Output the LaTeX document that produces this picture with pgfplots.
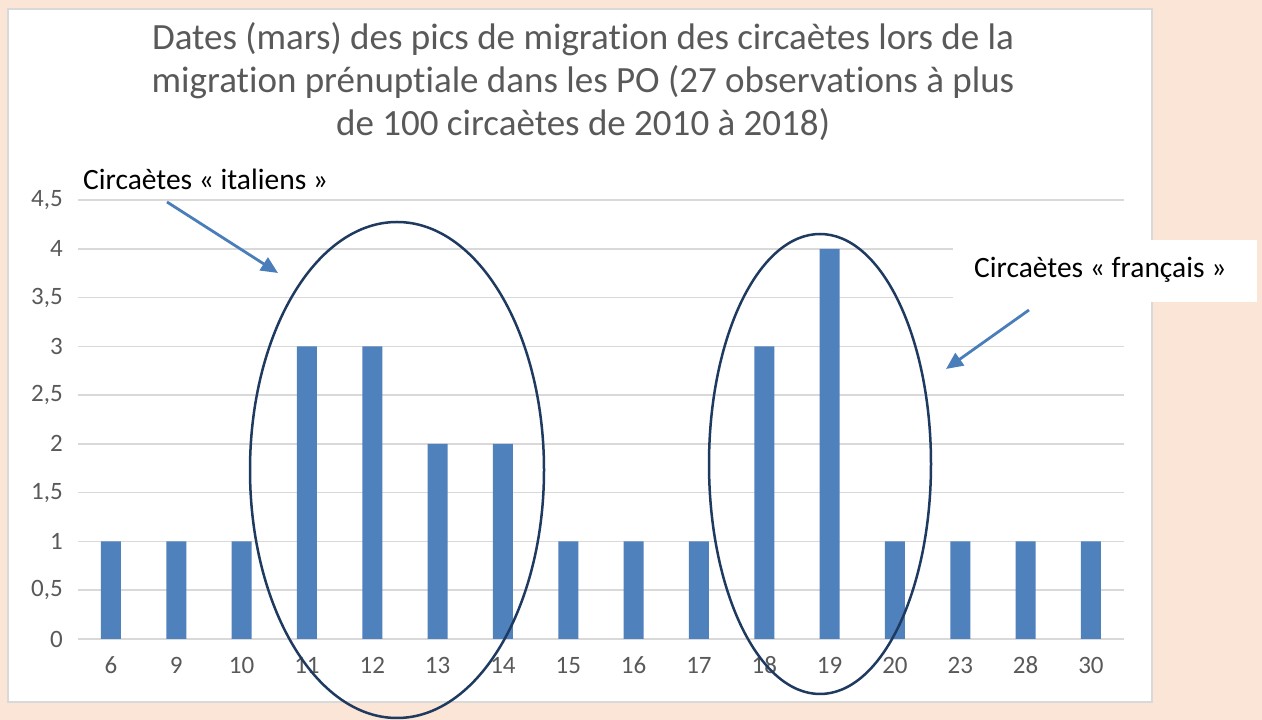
\documentclass[border=0pt]{standalone}
\usepackage{fontspec}
\setmainfont{Carlito}[Ligatures=NoCommon]
\usepackage{pgfplots}
\pgfplotsset{compat=1.18}
\usetikzlibrary{arrows.meta}
\definecolor{peach}{HTML}{FBE5D6}
\definecolor{barblue}{HTML}{4F81BD}
\definecolor{arrowblue}{HTML}{4A7EBB}
\definecolor{navy}{HTML}{1F3A60}
\definecolor{txtgray}{HTML}{595959}
\definecolor{gridgray}{HTML}{D9D9D9}
\begin{document}
\begin{tikzpicture}[x=1pt,y=1pt]
\useasboundingbox (0,0) rectangle (1262,720);
\fill[peach] (0,0) rectangle (1262,720);
\filldraw[fill=white, draw=gridgray, line width=1.5pt] (8,18) rectangle (1152,711);
\node[anchor=base, align=center, font=\fontsize{37}{43}\selectfont, text=txtgray] at (583,584)
 {Dates (mars) des pics de migration des circaètes lors de la\\
  migration prénuptiale dans les PO (27 observations à plus\\
  de 100 circaètes de 2010 à 2018)};
\begin{axis}[
  at={(78.3pt,81pt)}, anchor=south west,
  width=1045.3pt, height=439pt, scale only axis,
  xmin=-0.5, xmax=15.5, ymin=0, ymax=4.5,
  ytick={0,0.5,...,4.5},
  xtick={0,...,15},
  xticklabels={6,9,10,11,12,13,14,15,16,17,18,19,20,23,28,30},
  /pgf/number format/use comma,
  /pgf/number format/assume math mode=true,
  axis line style={draw=none},
  tick style={draw=none},
  ymajorgrids,
  grid style={gridgray, line width=1.5pt},
  ticklabel style={font=\fontsize{25}{29}\selectfont, text=txtgray},
  yticklabel style={anchor=east, xshift=-12pt},
  xticklabel style={anchor=base, yshift=-30pt},
  ybar, bar width=20pt,
]
\addplot[fill=barblue, draw=none] coordinates {
 (0,1) (1,1) (2,1) (3,3) (4,3) (5,2) (6,2) (7,1)
 (8,1) (9,1) (10,3) (11,4) (12,1) (13,1) (14,1) (15,1)};
\end{axis}
\draw[navy, line width=2.5pt] (397,250) ellipse [x radius=147, y radius=248];
\draw[navy, line width=2.5pt] (820,256) ellipse [x radius=111, y radius=230];
\draw[arrowblue, line width=2.8pt, -{Triangle[length=17pt, width=15pt]}] (167,518) -- (278,447);
\draw[arrowblue, line width=2.8pt, -{Triangle[length=17pt, width=15pt]}] (1029,410) -- (946,351);
\node[anchor=base west, font=\fontsize{29.5}{34}\selectfont, inner sep=0pt] at (83,530) {Circaètes « italiens »};
\fill[white] (953,418) rectangle (1257,480);
\node[anchor=base west, font=\fontsize{29.5}{34}\selectfont, inner sep=0pt] at (974,442) {Circaètes « français »};
\end{tikzpicture}
\end{document}
